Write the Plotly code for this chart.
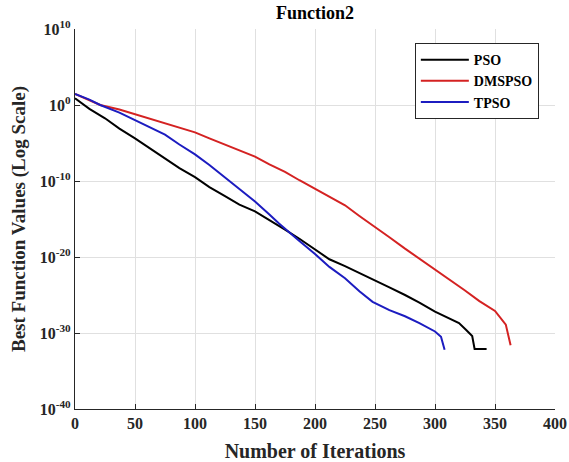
import plotly.graph_objects as go

# Iterations and log10 of best function values
pso_x = [0, 12, 25, 37, 50, 62, 75, 87, 100, 112, 125, 137, 150, 162, 175, 187, 200, 212, 225, 237, 250,
         262, 275, 287, 300, 312, 320, 326, 331, 333, 343]
pso_log = [0.88, -0.5, -1.75, -3.1, -4.4, -5.7, -7.0, -8.3, -9.5, -10.8, -12.0, -13.1, -14.0, -15.1, -16.4,
           -17.6, -19.0, -20.3, -21.2, -22.1, -23.0, -24.0, -25.0, -26.0, -27.2, -28.1, -28.7, -29.6, -30.4,
           -32.1, -32.1]

dms_x = [0, 12, 21, 37, 50, 62, 75, 87, 100, 112, 125, 137, 150, 162, 175, 187, 200, 212, 225, 237, 250,
         262, 275, 287, 300, 312, 325, 337, 350, 359, 363]
dms_log = [1.45, 0.6, 0.0, -0.6, -1.2, -1.8, -2.4, -2.9, -3.6, -4.4, -5.2, -6.0, -6.8, -7.8, -8.8, -9.9,
           -11.0, -12.0, -13.2, -14.6, -16.0, -17.4, -18.9, -20.2, -21.7, -23.0, -24.4, -25.8, -27.1, -28.9,
           -31.6]

tpso_x = [0, 12, 21, 37, 50, 62, 75, 87, 100, 112, 125, 137, 150, 162, 170, 187, 200, 212, 225, 237, 248,
          262, 275, 287, 300, 305, 308]
tpso_log = [1.45, 0.7, 0.0, -1.0, -2.0, -2.9, -3.9, -5.2, -6.5, -7.9, -9.5, -11.0, -12.7, -14.4, -15.6,
            -17.9, -19.6, -21.3, -22.8, -24.5, -25.9, -27.0, -27.8, -28.7, -29.8, -30.5, -32.2]

x_ticks = [0, 50, 100, 150, 200, 250, 300, 350, 400]
y_tick_exps = [10, 0, -10, -20, -30, -40]

serif = "Liberation Serif, Times New Roman, serif"

fig = go.Figure()
series = [
    ("PSO", pso_x, pso_log, "#000000"),
    ("DMSPSO", dms_x, dms_log, "#d42222"),
    ("TPSO", tpso_x, tpso_log, "#1c1cc0"),
]
for name, xs, ls, col in series:
    fig.add_trace(go.Scatter(
        x=xs, y=[10 ** v for v in ls], mode="lines", name=f"<b>{name}</b>",
        line=dict(color=col, width=2),
    ))

fig.update_layout(
    width=569, height=462,
    margin=dict(l=75, r=14, t=29, b=53),
    paper_bgcolor="white", plot_bgcolor="white",
    title=dict(text="<b>Function2</b>", x=0.5535, xanchor="center", y=0.972, yanchor="middle",
               font=dict(family=serif, size=18, color="#000000")),
    font=dict(family=serif, color="#262626"),
    showlegend=True,
    legend=dict(x=0.708, y=0.963, xanchor="left", yanchor="top",
                bgcolor="white", bordercolor="#262626", borderwidth=1,
                font=dict(family=serif, size=14, color="#000000"),
                itemwidth=48, tracegroupgap=0),
)
fig.update_xaxes(
    range=[0, 400], tickvals=x_ticks, ticktext=[f"<b>{v}</b>" for v in x_ticks],
    automargin=False, ticklabeloverflow="allow",
    showgrid=True, gridcolor="#e0e0e0", gridwidth=1,
    showline=True, linecolor="#262626", linewidth=1.2,
    ticks="inside", ticklen=5, tickcolor="#262626",
    tickfont=dict(family=serif, size=16, color="#262626"),
    zeroline=False, mirror=False,
    title=dict(text="<b>Number of Iterations</b>", font=dict(family=serif, size=20, color="#262626"), standoff=12),
)
fig.update_yaxes(
    type="log", range=[-40, 10],
    automargin=False, ticklabeloverflow="allow",
    tickvals=[10.0 ** e for e in y_tick_exps],
    ticktext=[f"<b>10<sup>{e}</sup></b>" for e in y_tick_exps],
    showgrid=True, gridcolor="#e0e0e0", gridwidth=1,
    showline=True, linecolor="#262626", linewidth=1.2,
    ticks="inside", ticklen=5, tickcolor="#262626",
    tickfont=dict(family=serif, size=16, color="#262626"),
    zeroline=False, mirror=False,
    title=dict(text="<b>Best Function Values (Log Scale)</b>", font=dict(family=serif, size=19, color="#262626"), standoff=9),
)

fig.write_html("out.html")
